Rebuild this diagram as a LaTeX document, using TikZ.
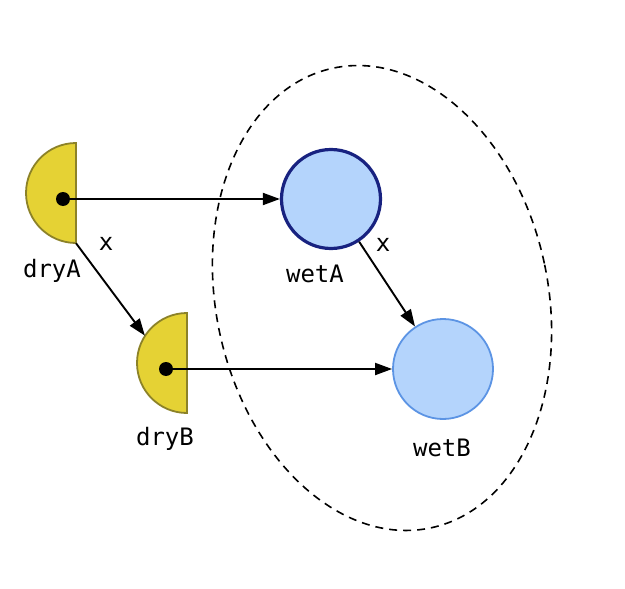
\documentclass[tikz,border=0pt]{standalone}
\usepackage{fontspec}
\setmonofont{DejaVu Sans Mono}
\usetikzlibrary{arrows.meta}
\definecolor{yellowfill}{RGB}{229,210,52}
\definecolor{yellowline}{RGB}{140,130,40}
\definecolor{bluefill}{RGB}{180,212,252}
\definecolor{navy}{RGB}{24,34,128}
\definecolor{midblue}{RGB}{92,148,228}
\tikzset{
  halfdisk/.style={fill=yellowfill,draw=yellowline,line width=1.8pt},
  dotmark/.style={circle,fill=black,inner sep=0pt,minimum size=14pt},
  anchorcirc/.style={circle,inner sep=0pt,minimum size=100pt},
  wetstrong/.style={circle,fill=bluefill,draw=navy,line width=3.2pt,inner sep=0pt,minimum size=99pt},
  wetlight/.style={circle,fill=bluefill,draw=midblue,line width=1.8pt,inner sep=0pt,minimum size=100pt},
  lbl/.style={font=\ttfamily\fontsize{24}{28}\selectfont,anchor=base,inner sep=0pt},
  conn/.style={line width=1.9pt,-{Triangle[length=17pt,width=12pt]}},
  group/.style={dash pattern=on 8pt off 6pt,line width=1.6pt}
}
\begin{document}
\begin{tikzpicture}[x=1pt,y=1pt]
\useasboundingbox (0,0) rectangle (625,-589);
% group ellipse
\draw[group] (382,-298) ellipse[x radius=166, y radius=235, rotate=12];
% dry half-disks
\draw[halfdisk] (76,-143) arc[start angle=90,end angle=270,radius=50] -- cycle;
\draw[halfdisk] (187,-313) arc[start angle=90,end angle=270,radius=50] -- cycle;
\node[anchorcirc] (dryAc) at (76,-193) {};
\node[anchorcirc] (dryBc) at (187,-363) {};
\node[dotmark] (dryAdot) at (63,-199) {};
\node[dotmark] (dryBdot) at (166,-369) {};
% wet circles
\node[wetstrong] (wetA) at (331,-199) {};
\node[wetlight] (wetB) at (443,-369) {};
% labels
\node[lbl] (lA) at (52,-277) {dryA};
\node[lbl] (lB) at (165,-445) {dryB};
\node[lbl] (lwA) at (315,-282) {wetA};
\node[lbl] (lwB) at (442,-456) {wetB};
\node[lbl] (x1) at (106,-250) {x};
\node[lbl] (x2) at (383,-251) {x};
% connectors
\draw[conn] (dryAdot.center) -- (wetA);
\draw[conn] (dryBdot.center) -- (wetB);
\draw[conn] (dryAc.south) -- (dryBc.147);
\draw[conn] (wetA) -- (wetB);
\end{tikzpicture}
\end{document}
